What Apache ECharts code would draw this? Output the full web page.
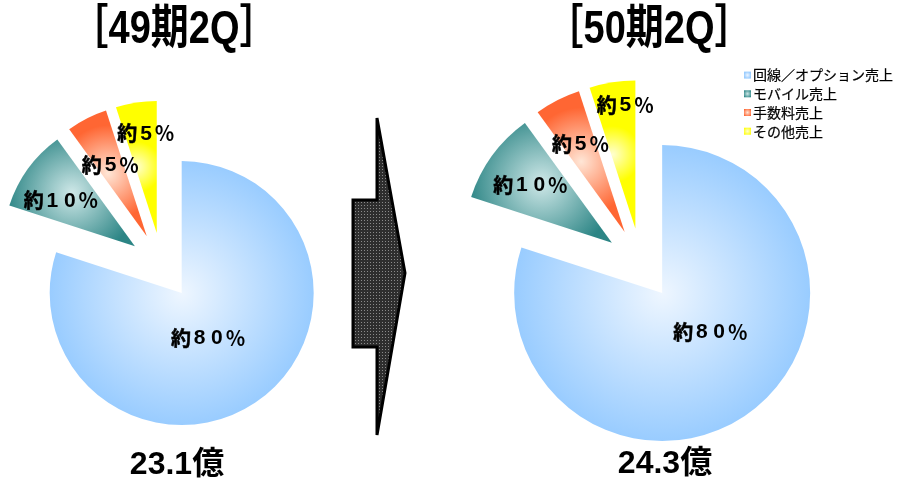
<!DOCTYPE html>
<html><head><meta charset="utf-8">
<script src="https://cdn.jsdelivr.net/npm/echarts@6/dist/echarts.min.js"></script>
<style>html,body{margin:0;padding:0;background:#fff}#c{width:899px;height:485px}</style>
</head><body><div id="c"></div>
<script>
// ---- data ----
const categories = ['回線／オプション売上', 'モバイル売上', '手数料売上', 'その他売上'];
const share49 = [80, 10, 5, 5];
const share50 = [80, 10, 5, 5];
const periodLabels = ['［49期2Q］', '［50期2Q］'];
const totals = [23.1, 24.3];
const totalUnit = '億';

// ---- styling ----
const CJK = '"Noto Sans CJK JP"';
const LATIN = '"Liberation Sans", Arial';
function grad(inner, outer, r) {
  return { type: 'radial', x: 0.5, y: 0.5, r: r,
    colorStops: [{ offset: 0, color: inner }, { offset: 1, color: outer }] };
}
const sliceColors = [
  grad('#EEF6FF', '#99CCFF', 0.5),
  grad('#CFE8E8', '#2C8585', 0.62),
  grad('#FFE6D6', '#FF6633', 0.62),
  grad('#FFFFD0', '#FFFF00', 0.62)
];
// label nudges (pixels) per pie, per slice
const labelNudge = [
  [[-14, -11], [-18, -5], [-5, -9], [0, -31]],
  [[3, -23], [-19, -12], [-9, -19], [2, -47]]
];

function pieSeries(values, center, radius, offset, idx) {
  return {
    type: 'pie',
    center: center,
    radius: radius,
    startAngle: 90,
    clockwise: true,
    selectedMode: 'multiple',
    selectedOffset: offset,
    emphasis: { disabled: true },
    silent: true,
    avoidLabelOverlap: false,
    label: {
      show: true, position: 'inside',
      formatter: p => '{a|約}' + String(p.value).split('').map(d => '{n|' + d + '}').join('') + '{p|％}',
      color: '#000',
      rich: {
        a: { fontFamily: CJK, fontWeight: 'bold', fontSize: 20, color: '#000', textBorderColor: '#000', textBorderWidth: 0.5 },
        n: { fontFamily: LATIN, fontWeight: 'bold', fontSize: 21, color: '#000', padding: [0, 2.8] },
        p: { fontFamily: CJK, fontWeight: 'bold', fontSize: 20, color: '#000' }
      }
    },
    labelLine: { show: false },
    labelLayout: p => ({ dx: labelNudge[idx][p.dataIndex][0], dy: labelNudge[idx][p.dataIndex][1] }),
    data: values.map((v, i) => ({
      name: categories[i], value: v, selected: true,
      itemStyle: { color: sliceColors[i], borderWidth: 0 }
    }))
  };
}

// arrow fill pattern
const pc = document.createElement('canvas');
pc.width = 3; pc.height = 3;
const pctx = pc.getContext('2d');
pctx.fillStyle = '#2e2e2e'; pctx.fillRect(0, 0, 3, 3);
pctx.fillStyle = '#8a8a8a'; pctx.fillRect(1, 1, 1, 1);

const chart = echarts.init(document.getElementById('c'), null, { renderer: 'canvas' });
chart.setOption({
  animation: false,
  backgroundColor: '#fff',
  legend: {
    orient: 'vertical', left: 744, top: 68, padding: 0,
    itemWidth: 7, itemHeight: 7, itemGap: 4.5, icon: 'rect',
    selectedMode: false,
    data: categories,
    textStyle: { fontFamily: CJK, fontSize: 14, color: '#000', padding: [0, 0, 0, -3],
      textBorderColor: '#000', textBorderWidth: 0.2 }
  },
  series: [
    pieSeries(share49, [162, 266], 132, 33.5, 0),
    pieSeries(share50, [641, 264], 148, 36, 1)
  ],
  graphic: [
    { type: 'polygon', z: 10,
      shape: { points: [[353, 200], [377, 200], [377, 118], [405, 273], [377, 435], [377, 347], [353, 347]] },
      style: { fill: { image: pc, repeat: 'repeat' }, stroke: '#000', lineWidth: 3 } },
    { type: 'text', x: 174, y: 30, scaleY: 1.22,
      style: { text: periodLabels[0], font: 'bold 38px ' + LATIN + ', ' + CJK, fill: '#000', textAlign: 'center', textVerticalAlign: 'middle' } },
    { type: 'text', x: 649, y: 30, scaleY: 1.22,
      style: { text: periodLabels[1], font: 'bold 38px ' + LATIN + ', ' + CJK, fill: '#000', textAlign: 'center', textVerticalAlign: 'middle' } },
    { type: 'text', x: 177, y: 465,
      style: { text: totals[0].toFixed(1) + totalUnit, font: 'bold 32px ' + LATIN + ', ' + CJK, fill: '#000', textAlign: 'center', textVerticalAlign: 'middle' } },
    { type: 'text', x: 665, y: 464,
      style: { text: totals[1].toFixed(1) + totalUnit, font: 'bold 32px ' + LATIN + ', ' + CJK, fill: '#000', textAlign: 'center', textVerticalAlign: 'middle' } }
  ]
});
</script>
</body></html>
